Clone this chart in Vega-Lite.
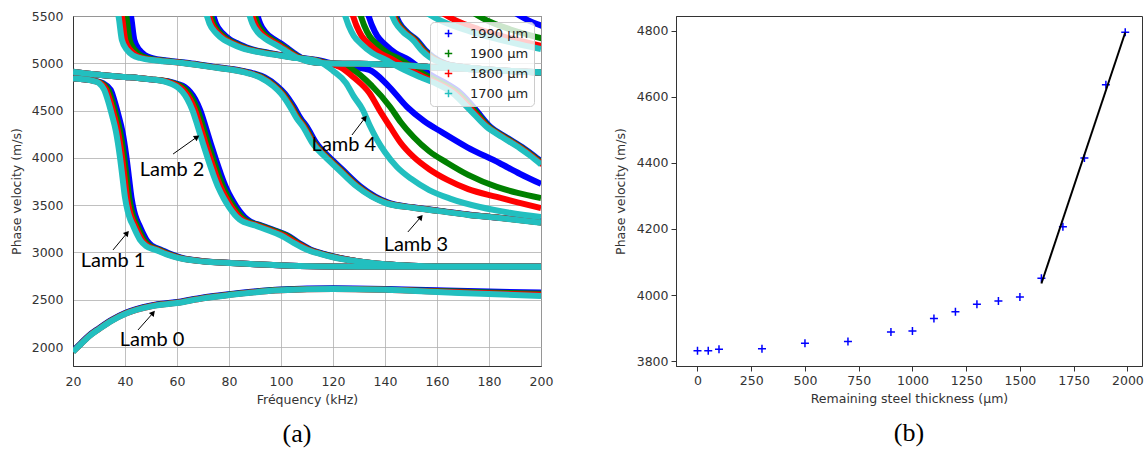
{
"$schema":"https://vega.github.io/schema/vega-lite/v6.json",
"background":"white",
"padding":{"left":9,"top":9,"right":1,"bottom":0},
"spacing":59,
"config":{
"view":{"stroke":"#333","strokeWidth":1},
"axis":{"labelFont":"DejaVu Sans","labelFontSize":12.5,"labelColor":"#333","titleFont":"DejaVu Sans","titleFontSize":12.5,"titleFontWeight":"normal","titleColor":"#333","domainColor":"#333","tickColor":"#333","labelFlush":false}
},
"datasets":{
"notes":[
{"label":"Lamb 0","af":45,"av":2181,"hf":50.8,"hv":2361,"f":50.4,"v":2075},
{"label":"Lamb 1","af":35.4,"av":3027,"hf":40.8,"hv":3206,"f":35.4,"v":2910},
{"label":"Lamb 2","af":58.5,"av":4041,"hf":67.7,"hv":4221,"f":58.1,"v":3872},
{"label":"Lamb 3","af":148.8,"av":3217,"hf":153.8,"hv":3375,"f":151.9,"v":3079},
{"label":"Lamb 4","af":127.3,"av":4242,"hf":132.3,"hv":4422,"f":124.2,"v":4136}
],
"pts":[{"x":0,"v":3831},{"x":50,"v":3831},{"x":100,"v":3836},{"x":300,"v":3837},{"x":500,"v":3854},{"x":700,"v":3859},{"x":900,"v":3888},{"x":1000,"v":3891},{"x":1100,"v":3929},{"x":1200,"v":3949},{"x":1300,"v":3972},{"x":1400,"v":3982},{"x":1500,"v":3994},{"x":1600,"v":4051},{"x":1700,"v":4207},{"x":1800,"v":4415},{"x":1900,"v":4637},{"x":1990,"v":4796}],
"fit":[{"x":1600,"v":4035},{"x":1990,"v":4795}],
"curves":[
{"c":"L0","t":1700,"f":20,"v":1950},{"c":"L0","t":1700,"f":23,"v":2030},{"c":"L0","t":1700,"f":26,"v":2110},{"c":"L0","t":1700,"f":30,"v":2190},{"c":"L0","t":1700,"f":35,"v":2280},{"c":"L0","t":1700,"f":40,"v":2350},{"c":"L0","t":1700,"f":50,"v":2430},{"c":"L0","t":1700,"f":60,"v":2466},{"c":"L0","t":1700,"f":70,"v":2515},{"c":"L0","t":1700,"f":80,"v":2550},{"c":"L0","t":1700,"f":100,"v":2600},{"c":"L0","t":1700,"f":120,"v":2614},{"c":"L0","t":1700,"f":140,"v":2605},{"c":"L0","t":1700,"f":160,"v":2583},{"c":"L0","t":1700,"f":180,"v":2560},{"c":"L0","t":1700,"f":200,"v":2540},
{"c":"L0","t":1800,"f":20,"v":1952},{"c":"L0","t":1800,"f":23,"v":2032},{"c":"L0","t":1800,"f":26,"v":2112},{"c":"L0","t":1800,"f":30,"v":2192},{"c":"L0","t":1800,"f":35,"v":2282},{"c":"L0","t":1800,"f":40,"v":2352},{"c":"L0","t":1800,"f":50,"v":2432},{"c":"L0","t":1800,"f":60,"v":2468},{"c":"L0","t":1800,"f":70,"v":2517},{"c":"L0","t":1800,"f":80,"v":2552},{"c":"L0","t":1800,"f":100,"v":2602},{"c":"L0","t":1800,"f":120,"v":2615},{"c":"L0","t":1800,"f":140,"v":2607},{"c":"L0","t":1800,"f":160,"v":2588},{"c":"L0","t":1800,"f":180,"v":2568},{"c":"L0","t":1800,"f":200,"v":2552},
{"c":"L0","t":1900,"f":20,"v":1955},{"c":"L0","t":1900,"f":23,"v":2035},{"c":"L0","t":1900,"f":26,"v":2115},{"c":"L0","t":1900,"f":30,"v":2195},{"c":"L0","t":1900,"f":35,"v":2285},{"c":"L0","t":1900,"f":40,"v":2355},{"c":"L0","t":1900,"f":50,"v":2435},{"c":"L0","t":1900,"f":60,"v":2471},{"c":"L0","t":1900,"f":70,"v":2520},{"c":"L0","t":1900,"f":80,"v":2555},{"c":"L0","t":1900,"f":100,"v":2605},{"c":"L0","t":1900,"f":120,"v":2617},{"c":"L0","t":1900,"f":140,"v":2609},{"c":"L0","t":1900,"f":160,"v":2593},{"c":"L0","t":1900,"f":180,"v":2577},{"c":"L0","t":1900,"f":200,"v":2563},
{"c":"L0","t":1990,"f":20,"v":1960},{"c":"L0","t":1990,"f":23,"v":2040},{"c":"L0","t":1990,"f":26,"v":2120},{"c":"L0","t":1990,"f":30,"v":2200},{"c":"L0","t":1990,"f":35,"v":2290},{"c":"L0","t":1990,"f":40,"v":2360},{"c":"L0","t":1990,"f":50,"v":2440},{"c":"L0","t":1990,"f":60,"v":2476},{"c":"L0","t":1990,"f":70,"v":2525},{"c":"L0","t":1990,"f":80,"v":2560},{"c":"L0","t":1990,"f":100,"v":2610},{"c":"L0","t":1990,"f":120,"v":2622},{"c":"L0","t":1990,"f":140,"v":2615},{"c":"L0","t":1990,"f":160,"v":2600},{"c":"L0","t":1990,"f":180,"v":2587},{"c":"L0","t":1990,"f":200,"v":2577},

{"c":"L1","t":1700,"f":20,"v":4840},{"c":"L1","t":1700,"f":25,"v":4828},{"c":"L1","t":1700,"f":28,"v":4812},{"c":"L1","t":1700,"f":30,"v":4790},{"c":"L1","t":1700,"f":32,"v":4720},{"c":"L1","t":1700,"f":33.5,"v":4600},{"c":"L1","t":1700,"f":35,"v":4450},{"c":"L1","t":1700,"f":36.5,"v":4280},{"c":"L1","t":1700,"f":38,"v":4020},{"c":"L1","t":1700,"f":39,"v":3800},{"c":"L1","t":1700,"f":40,"v":3580},{"c":"L1","t":1700,"f":41,"v":3440},{"c":"L1","t":1700,"f":42,"v":3350},{"c":"L1","t":1700,"f":43,"v":3290},{"c":"L1","t":1700,"f":44.5,"v":3200},{"c":"L1","t":1700,"f":46,"v":3125},{"c":"L1","t":1700,"f":48,"v":3070},{"c":"L1","t":1700,"f":52,"v":3025},{"c":"L1","t":1700,"f":56,"v":2980},{"c":"L1","t":1700,"f":60,"v":2945},{"c":"L1","t":1700,"f":70,"v":2905},{"c":"L1","t":1700,"f":80,"v":2890},{"c":"L1","t":1700,"f":90,"v":2875},{"c":"L1","t":1700,"f":107,"v":2857},{"c":"L1","t":1700,"f":130,"v":2850},{"c":"L1","t":1700,"f":200,"v":2848},
{"c":"L1","t":1800,"f":20,"v":4840},{"c":"L1","t":1800,"f":25,"v":4828},{"c":"L1","t":1800,"f":28.3,"v":4812},{"c":"L1","t":1800,"f":30.5,"v":4790},{"c":"L1","t":1800,"f":32.8,"v":4720},{"c":"L1","t":1800,"f":34.3,"v":4600},{"c":"L1","t":1800,"f":35.8,"v":4450},{"c":"L1","t":1800,"f":37.3,"v":4280},{"c":"L1","t":1800,"f":38.8,"v":4020},{"c":"L1","t":1800,"f":39.8,"v":3800},{"c":"L1","t":1800,"f":40.8,"v":3580},{"c":"L1","t":1800,"f":41.8,"v":3440},{"c":"L1","t":1800,"f":42.8,"v":3350},{"c":"L1","t":1800,"f":43.8,"v":3290},{"c":"L1","t":1800,"f":45.3,"v":3200},{"c":"L1","t":1800,"f":46.8,"v":3125},{"c":"L1","t":1800,"f":48.8,"v":3070},{"c":"L1","t":1800,"f":52.7,"v":3025},{"c":"L1","t":1800,"f":56.6,"v":2980},{"c":"L1","t":1800,"f":60.5,"v":2945},{"c":"L1","t":1800,"f":70.4,"v":2905},{"c":"L1","t":1800,"f":80.3,"v":2890},{"c":"L1","t":1800,"f":90,"v":2875},{"c":"L1","t":1800,"f":107,"v":2857},{"c":"L1","t":1800,"f":130,"v":2850},{"c":"L1","t":1800,"f":200,"v":2848},
{"c":"L1","t":1900,"f":20,"v":4840},{"c":"L1","t":1900,"f":25,"v":4828},{"c":"L1","t":1900,"f":28.6,"v":4812},{"c":"L1","t":1900,"f":31,"v":4790},{"c":"L1","t":1900,"f":33.6,"v":4720},{"c":"L1","t":1900,"f":35.1,"v":4600},{"c":"L1","t":1900,"f":36.6,"v":4450},{"c":"L1","t":1900,"f":38.1,"v":4280},{"c":"L1","t":1900,"f":39.6,"v":4020},{"c":"L1","t":1900,"f":40.6,"v":3800},{"c":"L1","t":1900,"f":41.6,"v":3580},{"c":"L1","t":1900,"f":42.6,"v":3440},{"c":"L1","t":1900,"f":43.6,"v":3350},{"c":"L1","t":1900,"f":44.6,"v":3290},{"c":"L1","t":1900,"f":46.1,"v":3200},{"c":"L1","t":1900,"f":47.6,"v":3125},{"c":"L1","t":1900,"f":49.6,"v":3070},{"c":"L1","t":1900,"f":53.4,"v":3025},{"c":"L1","t":1900,"f":57.2,"v":2980},{"c":"L1","t":1900,"f":61,"v":2945},{"c":"L1","t":1900,"f":70.8,"v":2905},{"c":"L1","t":1900,"f":80.6,"v":2890},{"c":"L1","t":1900,"f":90,"v":2875},{"c":"L1","t":1900,"f":107,"v":2857},{"c":"L1","t":1900,"f":130,"v":2850},{"c":"L1","t":1900,"f":200,"v":2848},
{"c":"L1","t":1990,"f":20,"v":4840},{"c":"L1","t":1990,"f":25,"v":4828},{"c":"L1","t":1990,"f":28.9,"v":4812},{"c":"L1","t":1990,"f":31.5,"v":4790},{"c":"L1","t":1990,"f":34.5,"v":4720},{"c":"L1","t":1990,"f":36,"v":4600},{"c":"L1","t":1990,"f":37.5,"v":4450},{"c":"L1","t":1990,"f":39,"v":4280},{"c":"L1","t":1990,"f":40.5,"v":4020},{"c":"L1","t":1990,"f":41.5,"v":3800},{"c":"L1","t":1990,"f":42.5,"v":3580},{"c":"L1","t":1990,"f":43.5,"v":3440},{"c":"L1","t":1990,"f":44.5,"v":3350},{"c":"L1","t":1990,"f":45.5,"v":3290},{"c":"L1","t":1990,"f":47,"v":3200},{"c":"L1","t":1990,"f":48.5,"v":3125},{"c":"L1","t":1990,"f":50.5,"v":3070},{"c":"L1","t":1990,"f":54.2,"v":3025},{"c":"L1","t":1990,"f":57.9,"v":2980},{"c":"L1","t":1990,"f":61.6,"v":2945},{"c":"L1","t":1990,"f":71.2,"v":2905},{"c":"L1","t":1990,"f":81,"v":2890},{"c":"L1","t":1990,"f":90,"v":2875},{"c":"L1","t":1990,"f":107,"v":2857},{"c":"L1","t":1990,"f":130,"v":2850},{"c":"L1","t":1990,"f":200,"v":2848},

{"c":"L2","t":1700,"f":20,"v":4910},{"c":"L2","t":1700,"f":25,"v":4893},{"c":"L2","t":1700,"f":30,"v":4878},{"c":"L2","t":1700,"f":35,"v":4865},{"c":"L2","t":1700,"f":40,"v":4855},{"c":"L2","t":1700,"f":45,"v":4845},{"c":"L2","t":1700,"f":50,"v":4830},{"c":"L2","t":1700,"f":55,"v":4810},{"c":"L2","t":1700,"f":58,"v":4780},{"c":"L2","t":1700,"f":60,"v":4750},{"c":"L2","t":1700,"f":62,"v":4700},{"c":"L2","t":1700,"f":64,"v":4620},{"c":"L2","t":1700,"f":66,"v":4500},{"c":"L2","t":1700,"f":68,"v":4330},{"c":"L2","t":1700,"f":70,"v":4150},{"c":"L2","t":1700,"f":72,"v":3980},{"c":"L2","t":1700,"f":74,"v":3820},{"c":"L2","t":1700,"f":76,"v":3680},{"c":"L2","t":1700,"f":78,"v":3570},{"c":"L2","t":1700,"f":80,"v":3480},{"c":"L2","t":1700,"f":84,"v":3350},{"c":"L2","t":1700,"f":90,"v":3285},{"c":"L2","t":1700,"f":95,"v":3235},{"c":"L2","t":1700,"f":100,"v":3180},{"c":"L2","t":1700,"f":105,"v":3100},{"c":"L2","t":1700,"f":110,"v":3030},{"c":"L2","t":1700,"f":115,"v":2985},{"c":"L2","t":1700,"f":120,"v":2950},{"c":"L2","t":1700,"f":130,"v":2905},{"c":"L2","t":1700,"f":140,"v":2875},{"c":"L2","t":1700,"f":150,"v":2860},{"c":"L2","t":1700,"f":160,"v":2853},{"c":"L2","t":1700,"f":200,"v":2850},
{"c":"L2","t":1800,"f":20,"v":4910},{"c":"L2","t":1800,"f":25,"v":4893},{"c":"L2","t":1800,"f":30,"v":4878},{"c":"L2","t":1800,"f":35,"v":4865},{"c":"L2","t":1800,"f":40,"v":4855},{"c":"L2","t":1800,"f":45,"v":4845},{"c":"L2","t":1800,"f":50,"v":4830},{"c":"L2","t":1800,"f":55.5,"v":4810},{"c":"L2","t":1800,"f":58.8,"v":4780},{"c":"L2","t":1800,"f":61,"v":4750},{"c":"L2","t":1800,"f":63,"v":4700},{"c":"L2","t":1800,"f":65,"v":4620},{"c":"L2","t":1800,"f":67,"v":4500},{"c":"L2","t":1800,"f":69,"v":4330},{"c":"L2","t":1800,"f":71,"v":4150},{"c":"L2","t":1800,"f":73,"v":3980},{"c":"L2","t":1800,"f":75,"v":3820},{"c":"L2","t":1800,"f":77,"v":3680},{"c":"L2","t":1800,"f":79,"v":3570},{"c":"L2","t":1800,"f":81,"v":3480},{"c":"L2","t":1800,"f":85,"v":3350},{"c":"L2","t":1800,"f":91,"v":3285},{"c":"L2","t":1800,"f":96,"v":3235},{"c":"L2","t":1800,"f":101,"v":3180},{"c":"L2","t":1800,"f":106,"v":3100},{"c":"L2","t":1800,"f":110.5,"v":3030},{"c":"L2","t":1800,"f":115.5,"v":2985},{"c":"L2","t":1800,"f":120.5,"v":2950},{"c":"L2","t":1800,"f":130,"v":2905},{"c":"L2","t":1800,"f":140,"v":2875},{"c":"L2","t":1800,"f":150,"v":2860},{"c":"L2","t":1800,"f":160,"v":2853},{"c":"L2","t":1800,"f":200,"v":2850},
{"c":"L2","t":1900,"f":20,"v":4910},{"c":"L2","t":1900,"f":25,"v":4893},{"c":"L2","t":1900,"f":30,"v":4878},{"c":"L2","t":1900,"f":35,"v":4865},{"c":"L2","t":1900,"f":40,"v":4855},{"c":"L2","t":1900,"f":45,"v":4845},{"c":"L2","t":1900,"f":50,"v":4830},{"c":"L2","t":1900,"f":56,"v":4810},{"c":"L2","t":1900,"f":59.6,"v":4780},{"c":"L2","t":1900,"f":62,"v":4750},{"c":"L2","t":1900,"f":64,"v":4700},{"c":"L2","t":1900,"f":66,"v":4620},{"c":"L2","t":1900,"f":68,"v":4500},{"c":"L2","t":1900,"f":70,"v":4330},{"c":"L2","t":1900,"f":72,"v":4150},{"c":"L2","t":1900,"f":74,"v":3980},{"c":"L2","t":1900,"f":76,"v":3820},{"c":"L2","t":1900,"f":78,"v":3680},{"c":"L2","t":1900,"f":80,"v":3570},{"c":"L2","t":1900,"f":82,"v":3480},{"c":"L2","t":1900,"f":86,"v":3350},{"c":"L2","t":1900,"f":92,"v":3285},{"c":"L2","t":1900,"f":97,"v":3235},{"c":"L2","t":1900,"f":102,"v":3180},{"c":"L2","t":1900,"f":106.5,"v":3100},{"c":"L2","t":1900,"f":111,"v":3030},{"c":"L2","t":1900,"f":116,"v":2985},{"c":"L2","t":1900,"f":121,"v":2950},{"c":"L2","t":1900,"f":130,"v":2905},{"c":"L2","t":1900,"f":140,"v":2875},{"c":"L2","t":1900,"f":150,"v":2860},{"c":"L2","t":1900,"f":160,"v":2853},{"c":"L2","t":1900,"f":200,"v":2850},
{"c":"L2","t":1990,"f":20,"v":4910},{"c":"L2","t":1990,"f":25,"v":4893},{"c":"L2","t":1990,"f":30,"v":4878},{"c":"L2","t":1990,"f":35,"v":4865},{"c":"L2","t":1990,"f":40,"v":4855},{"c":"L2","t":1990,"f":45,"v":4845},{"c":"L2","t":1990,"f":50,"v":4830},{"c":"L2","t":1990,"f":56.5,"v":4810},{"c":"L2","t":1990,"f":60.4,"v":4780},{"c":"L2","t":1990,"f":63,"v":4750},{"c":"L2","t":1990,"f":65,"v":4700},{"c":"L2","t":1990,"f":67,"v":4620},{"c":"L2","t":1990,"f":69,"v":4500},{"c":"L2","t":1990,"f":71,"v":4330},{"c":"L2","t":1990,"f":73,"v":4150},{"c":"L2","t":1990,"f":75,"v":3980},{"c":"L2","t":1990,"f":77,"v":3820},{"c":"L2","t":1990,"f":79,"v":3680},{"c":"L2","t":1990,"f":81,"v":3570},{"c":"L2","t":1990,"f":83,"v":3480},{"c":"L2","t":1990,"f":87,"v":3350},{"c":"L2","t":1990,"f":92.5,"v":3285},{"c":"L2","t":1990,"f":97.5,"v":3235},{"c":"L2","t":1990,"f":102.5,"v":3180},{"c":"L2","t":1990,"f":107,"v":3100},{"c":"L2","t":1990,"f":111.5,"v":3030},{"c":"L2","t":1990,"f":116.5,"v":2985},{"c":"L2","t":1990,"f":121.5,"v":2950},{"c":"L2","t":1990,"f":130,"v":2905},{"c":"L2","t":1990,"f":140,"v":2875},{"c":"L2","t":1990,"f":150,"v":2860},{"c":"L2","t":1990,"f":160,"v":2853},{"c":"L2","t":1990,"f":200,"v":2850},

{"c":"L3","t":1700,"f":36.5,"v":5600},{"c":"L3","t":1700,"f":37.5,"v":5500},{"c":"L3","t":1700,"f":38.8,"v":5246},{"c":"L3","t":1700,"f":40.8,"v":5140},{"c":"L3","t":1700,"f":43,"v":5085},{"c":"L3","t":1700,"f":45.8,"v":5056},{"c":"L3","t":1700,"f":52,"v":5030},{"c":"L3","t":1700,"f":62,"v":5003},{"c":"L3","t":1700,"f":72,"v":4965},{"c":"L3","t":1700,"f":81.5,"v":4929},{"c":"L3","t":1700,"f":87,"v":4897},{"c":"L3","t":1700,"f":92,"v":4850},{"c":"L3","t":1700,"f":97,"v":4760},{"c":"L3","t":1700,"f":100,"v":4680},{"c":"L3","t":1700,"f":103.5,"v":4540},{"c":"L3","t":1700,"f":106,"v":4420},{"c":"L3","t":1700,"f":108.5,"v":4327},{"c":"L3","t":1700,"f":112,"v":4160},{"c":"L3","t":1700,"f":117,"v":4010},{"c":"L3","t":1700,"f":122,"v":3880},{"c":"L3","t":1700,"f":129,"v":3700},{"c":"L3","t":1700,"f":140,"v":3525},{"c":"L3","t":1700,"f":150,"v":3475},{"c":"L3","t":1700,"f":160,"v":3440},{"c":"L3","t":1700,"f":172,"v":3397},{"c":"L3","t":1700,"f":185,"v":3362},{"c":"L3","t":1700,"f":200,"v":3315},
{"c":"L3","t":1800,"f":37.8,"v":5600},{"c":"L3","t":1800,"f":38.8,"v":5500},{"c":"L3","t":1800,"f":40.1,"v":5246},{"c":"L3","t":1800,"f":42.1,"v":5140},{"c":"L3","t":1800,"f":44.3,"v":5085},{"c":"L3","t":1800,"f":47,"v":5056},{"c":"L3","t":1800,"f":53,"v":5030},{"c":"L3","t":1800,"f":62.5,"v":5003},{"c":"L3","t":1800,"f":72.5,"v":4965},{"c":"L3","t":1800,"f":82,"v":4929},{"c":"L3","t":1800,"f":87.5,"v":4897},{"c":"L3","t":1800,"f":92.5,"v":4850},{"c":"L3","t":1800,"f":97.4,"v":4760},{"c":"L3","t":1800,"f":100.4,"v":4680},{"c":"L3","t":1800,"f":103.9,"v":4540},{"c":"L3","t":1800,"f":106.4,"v":4420},{"c":"L3","t":1800,"f":108.9,"v":4327},{"c":"L3","t":1800,"f":112.4,"v":4160},{"c":"L3","t":1800,"f":117.4,"v":4010},{"c":"L3","t":1800,"f":122.4,"v":3880},{"c":"L3","t":1800,"f":129.4,"v":3700},{"c":"L3","t":1800,"f":140.4,"v":3525},{"c":"L3","t":1800,"f":150.4,"v":3475},{"c":"L3","t":1800,"f":160.4,"v":3440},{"c":"L3","t":1800,"f":172.4,"v":3397},{"c":"L3","t":1800,"f":185.4,"v":3362},{"c":"L3","t":1800,"f":200.4,"v":3315},
{"c":"L3","t":1900,"f":39.5,"v":5600},{"c":"L3","t":1900,"f":40.5,"v":5500},{"c":"L3","t":1900,"f":41.8,"v":5246},{"c":"L3","t":1900,"f":43.8,"v":5140},{"c":"L3","t":1900,"f":46,"v":5085},{"c":"L3","t":1900,"f":48.6,"v":5056},{"c":"L3","t":1900,"f":54.3,"v":5030},{"c":"L3","t":1900,"f":63.2,"v":5003},{"c":"L3","t":1900,"f":73,"v":4965},{"c":"L3","t":1900,"f":82.5,"v":4929},{"c":"L3","t":1900,"f":88,"v":4897},{"c":"L3","t":1900,"f":93,"v":4850},{"c":"L3","t":1900,"f":97.8,"v":4760},{"c":"L3","t":1900,"f":100.8,"v":4680},{"c":"L3","t":1900,"f":104.3,"v":4540},{"c":"L3","t":1900,"f":106.8,"v":4420},{"c":"L3","t":1900,"f":109.3,"v":4327},{"c":"L3","t":1900,"f":112.8,"v":4160},{"c":"L3","t":1900,"f":117.8,"v":4010},{"c":"L3","t":1900,"f":122.8,"v":3880},{"c":"L3","t":1900,"f":129.8,"v":3700},{"c":"L3","t":1900,"f":140.8,"v":3525},{"c":"L3","t":1900,"f":150.8,"v":3475},{"c":"L3","t":1900,"f":160.8,"v":3440},{"c":"L3","t":1900,"f":172.8,"v":3397},{"c":"L3","t":1900,"f":185.8,"v":3362},{"c":"L3","t":1900,"f":200.8,"v":3315},
{"c":"L3","t":1990,"f":41.3,"v":5600},{"c":"L3","t":1990,"f":42.3,"v":5500},{"c":"L3","t":1990,"f":43.6,"v":5246},{"c":"L3","t":1990,"f":45.6,"v":5140},{"c":"L3","t":1990,"f":47.8,"v":5085},{"c":"L3","t":1990,"f":50.5,"v":5056},{"c":"L3","t":1990,"f":56,"v":5030},{"c":"L3","t":1990,"f":64.5,"v":5003},{"c":"L3","t":1990,"f":74,"v":4965},{"c":"L3","t":1990,"f":83.5,"v":4929},{"c":"L3","t":1990,"f":89,"v":4897},{"c":"L3","t":1990,"f":93.8,"v":4850},{"c":"L3","t":1990,"f":98.5,"v":4760},{"c":"L3","t":1990,"f":101.5,"v":4680},{"c":"L3","t":1990,"f":105,"v":4540},{"c":"L3","t":1990,"f":107.5,"v":4420},{"c":"L3","t":1990,"f":110,"v":4327},{"c":"L3","t":1990,"f":113.5,"v":4160},{"c":"L3","t":1990,"f":118.5,"v":4010},{"c":"L3","t":1990,"f":123.5,"v":3880},{"c":"L3","t":1990,"f":130.5,"v":3700},{"c":"L3","t":1990,"f":141.5,"v":3525},{"c":"L3","t":1990,"f":151.5,"v":3475},{"c":"L3","t":1990,"f":161.5,"v":3440},{"c":"L3","t":1990,"f":173.5,"v":3397},{"c":"L3","t":1990,"f":186.5,"v":3362},{"c":"L3","t":1990,"f":201.5,"v":3330},

{"c":"L4","t":1700,"f":70,"v":5600},{"c":"L4","t":1700,"f":71.5,"v":5500},{"c":"L4","t":1700,"f":72.5,"v":5420},{"c":"L4","t":1700,"f":75,"v":5320},{"c":"L4","t":1700,"f":78,"v":5250},{"c":"L4","t":1700,"f":80.4,"v":5215},{"c":"L4","t":1700,"f":85,"v":5160},{"c":"L4","t":1700,"f":93,"v":5110},{"c":"L4","t":1700,"f":100,"v":5080},{"c":"L4","t":1700,"f":106,"v":5055},{"c":"L4","t":1700,"f":112,"v":5035},{"c":"L4","t":1700,"f":116,"v":5000},{"c":"L4","t":1700,"f":120,"v":4920},{"c":"L4","t":1700,"f":125,"v":4792},{"c":"L4","t":1700,"f":128,"v":4650},{"c":"L4","t":1700,"f":131.5,"v":4506},{"c":"L4","t":1700,"f":134,"v":4350},{"c":"L4","t":1700,"f":137,"v":4190},{"c":"L4","t":1700,"f":140,"v":4060},{"c":"L4","t":1700,"f":144.6,"v":3904},{"c":"L4","t":1700,"f":150,"v":3780},{"c":"L4","t":1700,"f":157,"v":3660},{"c":"L4","t":1700,"f":165,"v":3570},{"c":"L4","t":1700,"f":176.5,"v":3481},{"c":"L4","t":1700,"f":188,"v":3420},{"c":"L4","t":1700,"f":200,"v":3375},
{"c":"L4","t":1800,"f":70.8,"v":5600},{"c":"L4","t":1800,"f":72.3,"v":5500},{"c":"L4","t":1800,"f":73.3,"v":5420},{"c":"L4","t":1800,"f":75.8,"v":5320},{"c":"L4","t":1800,"f":78.8,"v":5250},{"c":"L4","t":1800,"f":81.2,"v":5215},{"c":"L4","t":1800,"f":85.8,"v":5160},{"c":"L4","t":1800,"f":93.8,"v":5110},{"c":"L4","t":1800,"f":100.5,"v":5080},{"c":"L4","t":1800,"f":106.5,"v":5055},{"c":"L4","t":1800,"f":112.5,"v":5035},{"c":"L4","t":1800,"f":117,"v":5000},{"c":"L4","t":1800,"f":122.7,"v":4960},{"c":"L4","t":1800,"f":128,"v":4850},{"c":"L4","t":1800,"f":134,"v":4686},{"c":"L4","t":1800,"f":138,"v":4500},{"c":"L4","t":1800,"f":142,"v":4327},{"c":"L4","t":1800,"f":146,"v":4160},{"c":"L4","t":1800,"f":151,"v":4010},{"c":"L4","t":1800,"f":157,"v":3880},{"c":"L4","t":1800,"f":164,"v":3767},{"c":"L4","t":1800,"f":172,"v":3670},{"c":"L4","t":1800,"f":183,"v":3587},{"c":"L4","t":1800,"f":191,"v":3530},{"c":"L4","t":1800,"f":200,"v":3470},
{"c":"L4","t":1900,"f":71.6,"v":5600},{"c":"L4","t":1900,"f":73.1,"v":5500},{"c":"L4","t":1900,"f":74.1,"v":5420},{"c":"L4","t":1900,"f":76.6,"v":5320},{"c":"L4","t":1900,"f":79.6,"v":5250},{"c":"L4","t":1900,"f":82,"v":5215},{"c":"L4","t":1900,"f":86.6,"v":5160},{"c":"L4","t":1900,"f":94.6,"v":5110},{"c":"L4","t":1900,"f":101,"v":5080},{"c":"L4","t":1900,"f":107,"v":5055},{"c":"L4","t":1900,"f":113,"v":5035},{"c":"L4","t":1900,"f":117.5,"v":5005},{"c":"L4","t":1900,"f":122,"v":4975},{"c":"L4","t":1900,"f":127.7,"v":4930},{"c":"L4","t":1900,"f":135,"v":4760},{"c":"L4","t":1900,"f":142,"v":4538},{"c":"L4","t":1900,"f":146,"v":4380},{"c":"L4","t":1900,"f":151,"v":4221},{"c":"L4","t":1900,"f":157,"v":4070},{"c":"L4","t":1900,"f":164,"v":3946},{"c":"L4","t":1900,"f":172,"v":3820},{"c":"L4","t":1900,"f":183,"v":3693},{"c":"L4","t":1900,"f":191,"v":3630},{"c":"L4","t":1900,"f":200,"v":3576},
{"c":"L4","t":1990,"f":72.5,"v":5600},{"c":"L4","t":1990,"f":74,"v":5500},{"c":"L4","t":1990,"f":75,"v":5420},{"c":"L4","t":1990,"f":77.5,"v":5320},{"c":"L4","t":1990,"f":80.5,"v":5250},{"c":"L4","t":1990,"f":83,"v":5215},{"c":"L4","t":1990,"f":87.5,"v":5160},{"c":"L4","t":1990,"f":95.5,"v":5110},{"c":"L4","t":1990,"f":102,"v":5080},{"c":"L4","t":1990,"f":108,"v":5055},{"c":"L4","t":1990,"f":114,"v":5035},{"c":"L4","t":1990,"f":118,"v":5010},{"c":"L4","t":1990,"f":123,"v":4985},{"c":"L4","t":1990,"f":128,"v":4960},{"c":"L4","t":1990,"f":134,"v":4930},{"c":"L4","t":1990,"f":141,"v":4770},{"c":"L4","t":1990,"f":148.5,"v":4538},{"c":"L4","t":1990,"f":155,"v":4390},{"c":"L4","t":1990,"f":162,"v":4270},{"c":"L4","t":1990,"f":171.5,"v":4115},{"c":"L4","t":1990,"f":184,"v":3946},{"c":"L4","t":1990,"f":192,"v":3830},{"c":"L4","t":1990,"f":200,"v":3725},

{"c":"L5","t":1700,"f":123,"v":5600},{"c":"L5","t":1700,"f":124,"v":5550},{"c":"L5","t":1700,"f":126,"v":5400},{"c":"L5","t":1700,"f":128,"v":5290},{"c":"L5","t":1700,"f":131,"v":5200},{"c":"L5","t":1700,"f":135,"v":5110},{"c":"L5","t":1700,"f":140,"v":5040},{"c":"L5","t":1700,"f":146,"v":4950},{"c":"L5","t":1700,"f":153.5,"v":4855},{"c":"L5","t":1700,"f":160,"v":4780},{"c":"L5","t":1700,"f":166,"v":4686},{"c":"L5","t":1700,"f":172.7,"v":4506},{"c":"L5","t":1700,"f":179,"v":4330},{"c":"L5","t":1700,"f":185,"v":4221},{"c":"L5","t":1700,"f":192,"v":4100},{"c":"L5","t":1700,"f":196,"v":4020},{"c":"L5","t":1700,"f":200,"v":3930},
{"c":"L5","t":1800,"f":126,"v":5600},{"c":"L5","t":1800,"f":127,"v":5550},{"c":"L5","t":1800,"f":129,"v":5400},{"c":"L5","t":1800,"f":131,"v":5290},{"c":"L5","t":1800,"f":134,"v":5200},{"c":"L5","t":1800,"f":138,"v":5110},{"c":"L5","t":1800,"f":143,"v":5040},{"c":"L5","t":1800,"f":148.5,"v":4950},{"c":"L5","t":1800,"f":155,"v":4855},{"c":"L5","t":1800,"f":161,"v":4780},{"c":"L5","t":1800,"f":167,"v":4686},{"c":"L5","t":1800,"f":173.5,"v":4506},{"c":"L5","t":1800,"f":179.5,"v":4330},{"c":"L5","t":1800,"f":185.5,"v":4221},{"c":"L5","t":1800,"f":192.5,"v":4100},{"c":"L5","t":1800,"f":196.5,"v":4020},{"c":"L5","t":1800,"f":200.5,"v":3930},
{"c":"L5","t":1900,"f":129,"v":5600},{"c":"L5","t":1900,"f":130,"v":5550},{"c":"L5","t":1900,"f":132,"v":5400},{"c":"L5","t":1900,"f":134,"v":5290},{"c":"L5","t":1900,"f":137,"v":5200},{"c":"L5","t":1900,"f":141,"v":5110},{"c":"L5","t":1900,"f":146,"v":5040},{"c":"L5","t":1900,"f":151,"v":4950},{"c":"L5","t":1900,"f":157,"v":4855},{"c":"L5","t":1900,"f":162.5,"v":4780},{"c":"L5","t":1900,"f":168,"v":4686},{"c":"L5","t":1900,"f":174.3,"v":4506},{"c":"L5","t":1900,"f":180,"v":4330},{"c":"L5","t":1900,"f":186,"v":4221},{"c":"L5","t":1900,"f":193,"v":4100},{"c":"L5","t":1900,"f":197,"v":4020},{"c":"L5","t":1900,"f":201,"v":3930},
{"c":"L5","t":1990,"f":132,"v":5600},{"c":"L5","t":1990,"f":133,"v":5550},{"c":"L5","t":1990,"f":135,"v":5400},{"c":"L5","t":1990,"f":137,"v":5290},{"c":"L5","t":1990,"f":140,"v":5200},{"c":"L5","t":1990,"f":144,"v":5110},{"c":"L5","t":1990,"f":149,"v":5040},{"c":"L5","t":1990,"f":153.5,"v":4950},{"c":"L5","t":1990,"f":159,"v":4855},{"c":"L5","t":1990,"f":164,"v":4780},{"c":"L5","t":1990,"f":169,"v":4686},{"c":"L5","t":1990,"f":175,"v":4506},{"c":"L5","t":1990,"f":180.5,"v":4330},{"c":"L5","t":1990,"f":186.5,"v":4221},{"c":"L5","t":1990,"f":193.5,"v":4100},{"c":"L5","t":1990,"f":197.5,"v":4020},{"c":"L5","t":1990,"f":201.5,"v":3930},

{"c":"L6","t":1700,"f":87,"v":5600},{"c":"L6","t":1700,"f":88,"v":5500},{"c":"L6","t":1700,"f":89,"v":5420},{"c":"L6","t":1700,"f":91,"v":5330},{"c":"L6","t":1700,"f":94,"v":5260},{"c":"L6","t":1700,"f":97,"v":5210},{"c":"L6","t":1700,"f":99.6,"v":5170},{"c":"L6","t":1700,"f":103,"v":5110},{"c":"L6","t":1700,"f":107,"v":5050},{"c":"L6","t":1700,"f":112,"v":5010},{"c":"L6","t":1700,"f":120,"v":4998},{"c":"L6","t":1700,"f":130,"v":4995},{"c":"L6","t":1700,"f":138,"v":4990},{"c":"L6","t":1700,"f":147,"v":4980},{"c":"L6","t":1700,"f":160,"v":4955},{"c":"L6","t":1700,"f":175,"v":4935},{"c":"L6","t":1700,"f":190,"v":4915},{"c":"L6","t":1700,"f":200,"v":4905},
{"c":"L6","t":1800,"f":88,"v":5600},{"c":"L6","t":1800,"f":89,"v":5500},{"c":"L6","t":1800,"f":90,"v":5420},{"c":"L6","t":1800,"f":92,"v":5330},{"c":"L6","t":1800,"f":95,"v":5260},{"c":"L6","t":1800,"f":98,"v":5210},{"c":"L6","t":1800,"f":100.4,"v":5170},{"c":"L6","t":1800,"f":103.6,"v":5110},{"c":"L6","t":1800,"f":107.4,"v":5050},{"c":"L6","t":1800,"f":112.3,"v":5010},{"c":"L6","t":1800,"f":120,"v":4998},{"c":"L6","t":1800,"f":130,"v":4995},{"c":"L6","t":1800,"f":138,"v":4990},{"c":"L6","t":1800,"f":147,"v":4980},{"c":"L6","t":1800,"f":160,"v":4955},{"c":"L6","t":1800,"f":175,"v":4935},{"c":"L6","t":1800,"f":190,"v":4915},{"c":"L6","t":1800,"f":200,"v":4905},
{"c":"L6","t":1900,"f":89,"v":5600},{"c":"L6","t":1900,"f":90,"v":5500},{"c":"L6","t":1900,"f":91,"v":5420},{"c":"L6","t":1900,"f":93,"v":5330},{"c":"L6","t":1900,"f":96,"v":5260},{"c":"L6","t":1900,"f":99,"v":5210},{"c":"L6","t":1900,"f":101.2,"v":5170},{"c":"L6","t":1900,"f":104.3,"v":5110},{"c":"L6","t":1900,"f":107.9,"v":5050},{"c":"L6","t":1900,"f":112.6,"v":5010},{"c":"L6","t":1900,"f":120,"v":4998},{"c":"L6","t":1900,"f":130,"v":4995},{"c":"L6","t":1900,"f":138,"v":4990},{"c":"L6","t":1900,"f":147,"v":4980},{"c":"L6","t":1900,"f":160,"v":4955},{"c":"L6","t":1900,"f":175,"v":4935},{"c":"L6","t":1900,"f":190,"v":4915},{"c":"L6","t":1900,"f":200,"v":4905},
{"c":"L6","t":1990,"f":90,"v":5600},{"c":"L6","t":1990,"f":91,"v":5500},{"c":"L6","t":1990,"f":92,"v":5420},{"c":"L6","t":1990,"f":94,"v":5330},{"c":"L6","t":1990,"f":97,"v":5260},{"c":"L6","t":1990,"f":100,"v":5210},{"c":"L6","t":1990,"f":102,"v":5170},{"c":"L6","t":1990,"f":105,"v":5110},{"c":"L6","t":1990,"f":108.5,"v":5050},{"c":"L6","t":1990,"f":113,"v":5010},{"c":"L6","t":1990,"f":120,"v":4998},{"c":"L6","t":1990,"f":130,"v":4995},{"c":"L6","t":1990,"f":138,"v":4990},{"c":"L6","t":1990,"f":147,"v":4980},{"c":"L6","t":1990,"f":160,"v":4955},{"c":"L6","t":1990,"f":175,"v":4935},{"c":"L6","t":1990,"f":190,"v":4915},{"c":"L6","t":1990,"f":200,"v":4905},

{"c":"U4","t":1700,"f":141,"v":5600},{"c":"U4","t":1700,"f":142,"v":5550},{"c":"U4","t":1700,"f":144,"v":5430},{"c":"U4","t":1700,"f":147,"v":5330},{"c":"U4","t":1700,"f":150.8,"v":5246},{"c":"U4","t":1700,"f":154,"v":5140},{"c":"U4","t":1700,"f":157,"v":5067},{"c":"U4","t":1700,"f":162,"v":5000},{"c":"U4","t":1700,"f":170,"v":4960},{"c":"U4","t":1700,"f":180,"v":4935},{"c":"U4","t":1700,"f":190,"v":4915},{"c":"U4","t":1700,"f":200,"v":4900},
{"c":"U4","t":1800,"f":141.5,"v":5600},{"c":"U4","t":1800,"f":142.5,"v":5550},{"c":"U4","t":1800,"f":144.5,"v":5430},{"c":"U4","t":1800,"f":147.5,"v":5330},{"c":"U4","t":1800,"f":151.3,"v":5246},{"c":"U4","t":1800,"f":154.5,"v":5140},{"c":"U4","t":1800,"f":157.5,"v":5067},{"c":"U4","t":1800,"f":162.3,"v":5000},{"c":"U4","t":1800,"f":170,"v":4960},{"c":"U4","t":1800,"f":180,"v":4935},{"c":"U4","t":1800,"f":190,"v":4915},{"c":"U4","t":1800,"f":200,"v":4900},
{"c":"U4","t":1900,"f":142,"v":5600},{"c":"U4","t":1900,"f":143,"v":5550},{"c":"U4","t":1900,"f":145,"v":5430},{"c":"U4","t":1900,"f":148,"v":5330},{"c":"U4","t":1900,"f":151.8,"v":5246},{"c":"U4","t":1900,"f":155,"v":5140},{"c":"U4","t":1900,"f":158,"v":5067},{"c":"U4","t":1900,"f":162.6,"v":5000},{"c":"U4","t":1900,"f":170,"v":4960},{"c":"U4","t":1900,"f":180,"v":4935},{"c":"U4","t":1900,"f":190,"v":4915},{"c":"U4","t":1900,"f":200,"v":4900},
{"c":"U4","t":1990,"f":142.5,"v":5600},{"c":"U4","t":1990,"f":143.5,"v":5550},{"c":"U4","t":1990,"f":145.5,"v":5430},{"c":"U4","t":1990,"f":148.5,"v":5330},{"c":"U4","t":1990,"f":152.3,"v":5246},{"c":"U4","t":1990,"f":155.5,"v":5140},{"c":"U4","t":1990,"f":158.5,"v":5067},{"c":"U4","t":1990,"f":163,"v":5000},{"c":"U4","t":1990,"f":170,"v":4960},{"c":"U4","t":1990,"f":180,"v":4935},{"c":"U4","t":1990,"f":190,"v":4915},{"c":"U4","t":1990,"f":200,"v":4900},

{"c":"U5","t":1700,"f":152,"v":5600},{"c":"U5","t":1700,"f":155,"v":5550},{"c":"U5","t":1700,"f":160,"v":5470},{"c":"U5","t":1700,"f":170,"v":5360},{"c":"U5","t":1700,"f":180,"v":5280},{"c":"U5","t":1700,"f":190,"v":5210},{"c":"U5","t":1700,"f":200,"v":5150},
{"c":"U5","t":1800,"f":158,"v":5600},{"c":"U5","t":1800,"f":161,"v":5550},{"c":"U5","t":1800,"f":166,"v":5470},{"c":"U5","t":1800,"f":176,"v":5360},{"c":"U5","t":1800,"f":186,"v":5280},{"c":"U5","t":1800,"f":196,"v":5210},{"c":"U5","t":1800,"f":206,"v":5150},
{"c":"U5","t":1900,"f":170,"v":5600},{"c":"U5","t":1900,"f":173,"v":5550},{"c":"U5","t":1900,"f":178,"v":5470},{"c":"U5","t":1900,"f":188,"v":5360},{"c":"U5","t":1900,"f":198,"v":5280},{"c":"U5","t":1900,"f":208,"v":5210},{"c":"U5","t":1900,"f":218,"v":5150},
{"c":"U5","t":1990,"f":186,"v":5600},{"c":"U5","t":1990,"f":189,"v":5550},{"c":"U5","t":1990,"f":194,"v":5470},{"c":"U5","t":1990,"f":204,"v":5360},{"c":"U5","t":1990,"f":214,"v":5280},{"c":"U5","t":1990,"f":224,"v":5210},{"c":"U5","t":1990,"f":234,"v":5150}
]
},
"hconcat":[
{
"width":468,"height":350,
"title":{"text":"(a)","orient":"bottom","font":"Liberation Serif","fontSize":26,"fontWeight":"normal","color":"#000","frame":"group","anchor":"middle","offset":15,"dx":-10},
"layer":[
{"data":{"name":"curves"},"transform":[{"filter":"datum.t == 1990"}],
"mark":{"type":"line","strokeWidth":6,"clip":true,"interpolate":"monotone"},
"encoding":{
"x":{"field":"f","type":"quantitative","title":"Fréquency (kHz)","scale":{"domain":[20,200],"nice":false,"zero":false},"axis":{"values":[20,40,60,80,100,120,140,160,180,200],"format":"d","grid":true,"gridColor":"#b0b0b0","gridWidth":0.8,"ticks":false,"labelPadding":9,"titlePadding":6,"labelFlush":false}},
"y":{"field":"v","type":"quantitative","title":"Phase velocity (m/s)","scale":{"domain":[1800,5500],"nice":false,"zero":false},"axis":{"values":[2000,2500,3000,3500,4000,4500,5000,5500],"format":"d","grid":true,"gridColor":"#b0b0b0","gridWidth":0.8,"ticks":false,"labelPadding":10,"titlePadding":8,"labelFlush":false}},
"color":{"field":"t","type":"nominal","scale":{"domain":[1990,1900,1800,1700],"range":["#0000ff","#008000","#ff0000","#22bfbf"]},
"legend":{"orient":"none","legendX":357,"legendY":6,"title":null,"labelExpr":"datum.label + ' µm'","symbolType":"M-1,0L1,0M0,-1L0,1","symbolStrokeWidth":1.5,"symbolSize":56,"fillColor":"rgba(255,255,255,0.8)","strokeColor":"#cccccc","cornerRadius":4,"padding":5,"symbolOffset":7,"labelOffset":15,"labelFontSize":13,"labelFont":"DejaVu Sans","labelColor":"#222","rowPadding":5}},
"detail":{"field":"c"}}},
{"data":{"name":"curves"},"transform":[{"filter":"datum.t == 1900"}],
"mark":{"type":"line","strokeWidth":6,"clip":true,"interpolate":"monotone"},
"encoding":{
"x":{"field":"f","type":"quantitative","title":"Fréquency (kHz)","scale":{"domain":[20,200],"nice":false,"zero":false}},
"y":{"field":"v","type":"quantitative","title":"Phase velocity (m/s)","scale":{"domain":[1800,5500],"nice":false,"zero":false}},
"color":{"field":"t","type":"nominal","scale":{"domain":[1990,1900,1800,1700],"range":["#0000ff","#008000","#ff0000","#22bfbf"]}},
"detail":{"field":"c"}}},
{"data":{"name":"curves"},"transform":[{"filter":"datum.t == 1800"}],
"mark":{"type":"line","strokeWidth":6,"clip":true,"interpolate":"monotone"},
"encoding":{
"x":{"field":"f","type":"quantitative","title":"Fréquency (kHz)","scale":{"domain":[20,200],"nice":false,"zero":false}},
"y":{"field":"v","type":"quantitative","title":"Phase velocity (m/s)","scale":{"domain":[1800,5500],"nice":false,"zero":false}},
"color":{"field":"t","type":"nominal","scale":{"domain":[1990,1900,1800,1700],"range":["#0000ff","#008000","#ff0000","#22bfbf"]}},
"detail":{"field":"c"}}},
{"data":{"name":"curves"},"transform":[{"filter":"datum.t == 1700"}],
"mark":{"type":"line","strokeWidth":6,"clip":true,"interpolate":"monotone"},
"encoding":{
"x":{"field":"f","type":"quantitative","title":"Fréquency (kHz)","scale":{"domain":[20,200],"nice":false,"zero":false}},
"y":{"field":"v","type":"quantitative","title":"Phase velocity (m/s)","scale":{"domain":[1800,5500],"nice":false,"zero":false}},
"color":{"field":"t","type":"nominal","scale":{"domain":[1990,1900,1800,1700],"range":["#0000ff","#008000","#ff0000","#22bfbf"]}},
"detail":{"field":"c"}}},
{"data":{"name":"notes"},
"mark":{"type":"rule","color":"black","strokeWidth":1},
"encoding":{
"x":{"field":"af","type":"quantitative","title":"Fréquency (kHz)","scale":{"domain":[20,200],"nice":false,"zero":false}},
"y":{"field":"av","type":"quantitative","title":"Phase velocity (m/s)","scale":{"domain":[1800,5500],"nice":false,"zero":false}},
"x2":{"field":"hf"},"y2":{"field":"hv"}}},
{"data":{"name":"notes"},"transform":[{"filter":"datum.label != 'Lamb 2'"}],
"mark":{"type":"point","shape":"triangle-up","filled":true,"color":"black","opacity":1,"size":40,"angle":40},
"encoding":{
"x":{"field":"hf","type":"quantitative","title":"Fréquency (kHz)","scale":{"domain":[20,200],"nice":false,"zero":false}},
"y":{"field":"hv","type":"quantitative","title":"Phase velocity (m/s)","scale":{"domain":[1800,5500],"nice":false,"zero":false}}}},
{"data":{"name":"notes"},"transform":[{"filter":"datum.label == 'Lamb 2'"}],
"mark":{"type":"point","shape":"triangle-up","filled":true,"color":"black","opacity":1,"size":40,"angle":55},
"encoding":{
"x":{"field":"hf","type":"quantitative","title":"Fréquency (kHz)","scale":{"domain":[20,200],"nice":false,"zero":false}},
"y":{"field":"hv","type":"quantitative","title":"Phase velocity (m/s)","scale":{"domain":[1800,5500],"nice":false,"zero":false}}}},
{"data":{"name":"notes"},
"mark":{"type":"text","font":"Lato","fontSize":20,"color":"black","align":"center","baseline":"middle"},
"encoding":{
"x":{"field":"f","type":"quantitative","title":"Fréquency (kHz)","scale":{"domain":[20,200],"nice":false,"zero":false}},
"y":{"field":"v","type":"quantitative","title":"Phase velocity (m/s)","scale":{"domain":[1800,5500],"nice":false,"zero":false}},
"text":{"field":"label"}}}
]
},
{
"width":466,"height":350,
"title":{"text":"(b)","orient":"bottom","font":"Liberation Serif","fontSize":26,"fontWeight":"normal","color":"#000","frame":"group","anchor":"middle","offset":15},
"layer":[
{"data":{"name":"pts"},
"mark":{"type":"point","shape":"M-1,0L1,0M0,-1L0,1","filled":false,"color":"#0000ff","strokeWidth":1.5,"size":64,"opacity":1},
"encoding":{
"x":{"field":"x","type":"quantitative","title":"Remaining steel thickness (µm)","scale":{"domain":[-100,2068],"nice":false,"zero":false},"axis":{"values":[0,250,500,750,1000,1250,1500,1750,2000],"format":"d","grid":false,"tickSize":5,"labelPadding":3,"titlePadding":6,"labelFlush":false}},
"y":{"field":"v","type":"quantitative","title":"Phase velocity (m/s)","scale":{"domain":[3785,4845],"nice":false,"zero":false},"axis":{"values":[3800,4000,4200,4400,4600,4800],"format":"d","grid":false,"tickSize":5,"labelPadding":3,"titlePadding":9,"labelFlush":false}}}},
{"data":{"name":"fit"},
"mark":{"type":"line","color":"black","strokeWidth":2},
"encoding":{
"x":{"field":"x","type":"quantitative","title":"Remaining steel thickness (µm)","scale":{"domain":[-100,2068],"nice":false,"zero":false}},
"y":{"field":"v","type":"quantitative","title":"Phase velocity (m/s)","scale":{"domain":[3785,4845],"nice":false,"zero":false}}}}
]
}
]
}
